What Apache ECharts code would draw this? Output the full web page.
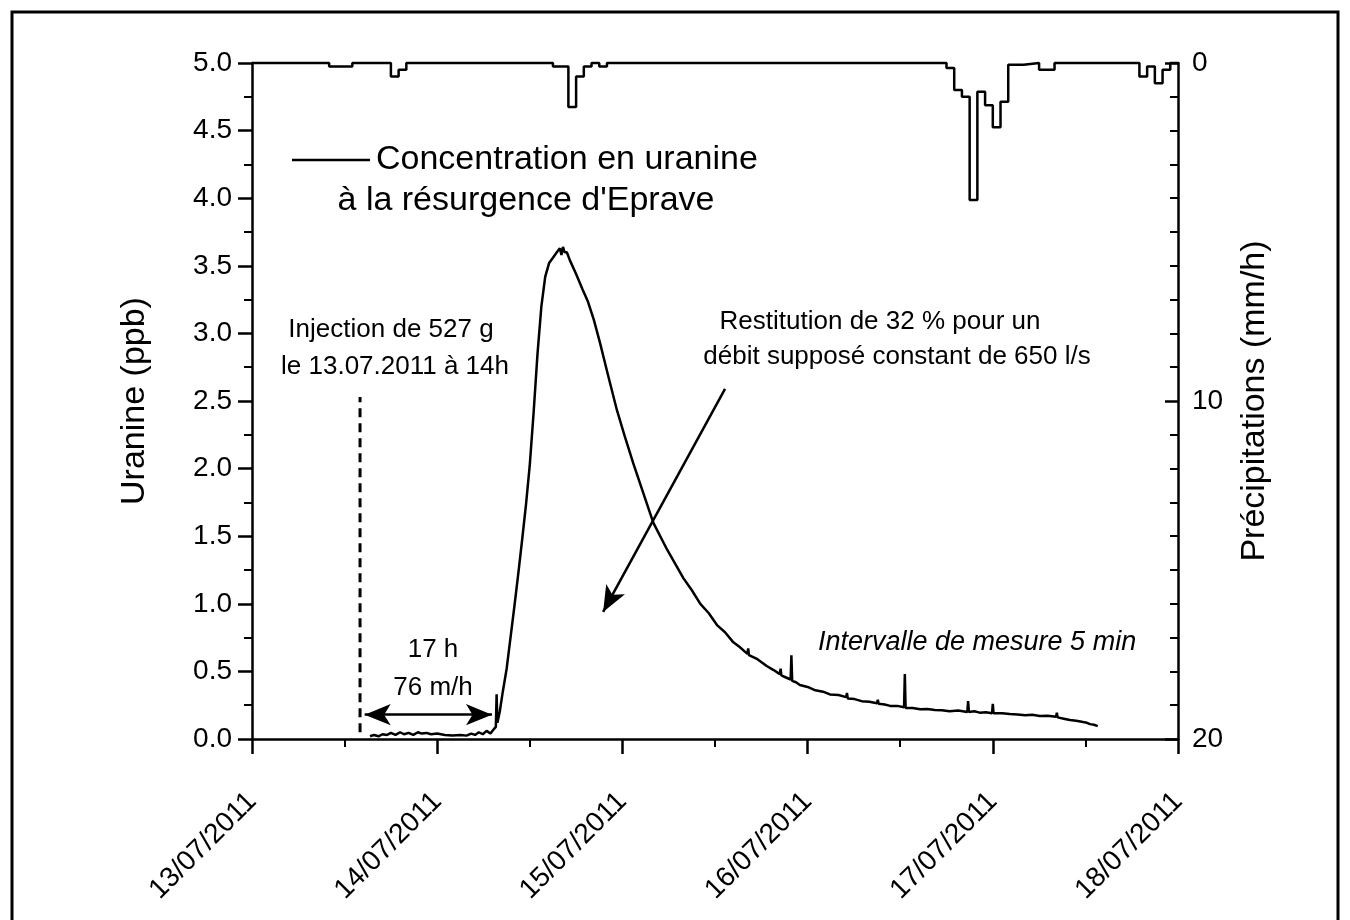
<!DOCTYPE html>
<html>
<head>
<meta charset="utf-8">
<title>Uranine - Eprave</title>
<script src="https://cdn.jsdelivr.net/npm/echarts@6.0.0/dist/echarts.min.js"></script>
<style>
    html, body { margin: 0; padding: 0; background: #fff; }
    #main { width: 1350px; height: 920px; }
</style>
</head>
<body>
<div id="main"></div>
<script>
// heures depuis le 13/07/2011 00:00
var dayLabels = ['13/07/2011', '14/07/2011', '15/07/2011', '16/07/2011', '17/07/2011', '18/07/2011'];

// concentration en uranine (ppb)
var concHours = [15.3, 15.8, 16.4, 16.9, 17.5, 18.0, 18.6, 19.2, 19.7, 20.3, 20.9, 21.5, 22.0, 22.6, 23.2, 24.0,
    25.0, 26.0, 27.0, 27.8, 28.4, 28.9, 29.4, 29.9, 30.4, 30.9, 31.3, 31.6, 31.7, 31.8, 32.1, 32.5,
    33.0, 33.5, 34.0, 34.5, 35.0, 35.5, 36.0, 36.5, 37.0, 37.5, 38.0, 38.5, 39.0, 39.5, 39.9, 40.1,
    40.3, 40.5, 40.8, 41.2, 42.0, 42.8, 43.5, 44.3, 45.1, 46.1, 47.3, 48.3, 49.4, 50.7, 52.0, 53.8,
    55.9, 57.0, 58.1, 59.2, 60.3, 61.3, 62.3, 63.2, 64.2, 64.3, 64.4, 65.5, 66.7, 67.6, 68.4, 68.5,
    68.6, 69.2, 69.8, 69.9, 70.0, 70.5, 71.0, 72.0, 73.0, 74.0, 74.9, 76.0, 77.0, 77.1, 77.2, 78.1,
    79.0, 80.0, 81.0, 81.1, 81.2, 82.0, 82.7, 83.6, 84.5, 84.6, 84.7, 85.6, 86.6, 87.5, 88.5, 89.4,
    90.4, 91.5, 92.7, 92.8, 92.9, 93.6, 94.3, 95.1, 95.9, 96.0, 96.1, 97.2, 98.2, 99.2, 100.2, 101.1,
    102.1, 103.1, 104.2, 104.3, 104.4, 105.2, 106.0, 106.8, 107.7, 108.2, 108.6, 109.1, 109.6];
var concPpb = [0.02, 0.03, 0.02, 0.035, 0.03, 0.045, 0.03, 0.05, 0.035, 0.045, 0.03, 0.05, 0.04, 0.045, 0.035, 0.04,
    0.03, 0.025, 0.03, 0.025, 0.04, 0.03, 0.05, 0.035, 0.06, 0.04, 0.07, 0.09, 0.33, 0.12, 0.2, 0.35,
    0.52, 0.75, 0.98, 1.22, 1.47, 1.73, 2.03, 2.42, 2.85, 3.2, 3.42, 3.52, 3.56, 3.6, 3.63, 3.58,
    3.64, 3.6, 3.6, 3.54, 3.44, 3.33, 3.24, 3.1, 2.93, 2.7, 2.43, 2.24, 2.04, 1.82, 1.6, 1.4,
    1.19, 1.1, 1.0, 0.93, 0.84, 0.79, 0.72, 0.68, 0.63, 0.67, 0.62, 0.59, 0.54, 0.51, 0.48, 0.52,
    0.47, 0.455, 0.44, 0.62, 0.43, 0.42, 0.40, 0.385, 0.36, 0.35, 0.33, 0.325, 0.31, 0.34, 0.30, 0.295,
    0.28, 0.275, 0.265, 0.29, 0.26, 0.255, 0.245, 0.245, 0.235, 0.48, 0.23, 0.23, 0.22, 0.222, 0.215, 0.212,
    0.205, 0.21, 0.2, 0.28, 0.2, 0.205, 0.195, 0.198, 0.19, 0.26, 0.19, 0.19, 0.185, 0.182, 0.175, 0.18,
    0.17, 0.172, 0.165, 0.195, 0.16, 0.15, 0.14, 0.135, 0.125, 0.12, 0.11, 0.105, 0.095];

// precipitations (mm/h), valeur tenue jusqu'au point suivant
var rainHours = [0, 10, 13, 18, 19, 20, 39, 41, 42, 43, 44, 45, 46, 90, 91, 92, 93, 94, 95, 96, 97, 98,
    100, 102, 104, 115, 116, 117, 118, 119, 120];
var rainMm = [0, 0.1, 0, 0.4, 0.2, 0, 0.1, 1.3, 0.4, 0.1, 0, 0.1, 0, 0.15, 0.8, 1.0, 4.05, 0.85, 1.25, 1.9, 1.15, 0.05,
    0, 0.2, 0, 0.4, 0.1, 0.6, 0.2, 0, 0];

// injection le 13.07 a 14h, fleche 17 h, fleche restitution
var injectionHour = 14;
var injectionTop = 2.53;
var transitArrow = [[14.6, 0.18], [31.1, 0.18]];
var restitArrow = [[61.3, 2.59], [45.5, 0.94]];

var FONT = '"Liberation Sans", Arial, sans-serif';

var concData = [];
for (var i = 0; i < concHours.length; i++) {
    concData.push([concHours[i], concPpb[i]]);
}
var rainData = [];
for (var j = 0; j < rainHours.length; j++) {
    rainData.push([rainHours[j], rainMm[j]]);
}

function txt(s, x, y, size, align, italic) {
    return {
        type: 'text',
        silent: true,
        style: {
            text: s, x: x, y: y, fill: '#000',
            font: (italic ? 'italic ' : '') + size + 'px ' + FONT,
            textAlign: align, align: align,
            textVerticalAlign: 'middle', verticalAlign: 'middle'
        }
    };
}

var myChart = echarts.init(document.getElementById('main'));

var option = {
    backgroundColor: '#fff',
    animation: false,
    grid: { left: 252, right: 172, top: 63, bottom: 181 },
    xAxis: {
        type: 'value',
        min: 0,
        max: 120,
        interval: 24,
        offset: 18,
        axisLine: { show: true, lineStyle: { color: '#000', width: 2.5 } },
        axisTick: { show: true, length: 15, lineStyle: { color: '#000', width: 2.5 } },
        minorTick: { show: true, splitNumber: 2, length: 8, lineStyle: { color: '#000', width: 2 } },
        splitLine: { show: false },
        axisLabel: {
            rotate: 45,
            margin: 40,
            color: '#000',
            fontFamily: FONT,
            fontSize: 28,
            showMinLabel: true,
            showMaxLabel: true,
            formatter: function (v) { return dayLabels[Math.round(v / 24)]; }
        }
    },
    yAxis: [
        {
            type: 'value',
            position: 'left',
            min: 0,
            max: 5,
            interval: 0.5,
            name: 'Uranine (ppb)',
            nameLocation: 'middle',
            nameGap: 100,
            nameTextStyle: { color: '#000', fontFamily: FONT, fontSize: 34 },
            axisLine: { show: true, lineStyle: { color: '#000', width: 2.5 } },
            axisTick: { show: true, length: 14, lineStyle: { color: '#000', width: 2.5 } },
            minorTick: { show: true, splitNumber: 2, length: 8, lineStyle: { color: '#000', width: 2 } },
            splitLine: { show: false },
            axisLabel: {
                margin: 20,
                color: '#000',
                fontFamily: FONT,
                fontSize: 28,
                formatter: function (v) { return v.toFixed(1); }
            }
        },
        {
            type: 'value',
            position: 'right',
            inverse: true,
            min: 0,
            max: 20,
            interval: 10,
            name: 'Précipitations (mm/h)',
            nameLocation: 'middle',
            nameGap: 60,
            nameTextStyle: { color: '#000', fontFamily: FONT, fontSize: 34 },
            axisLine: { show: true, lineStyle: { color: '#000', width: 2.5 } },
            axisTick: { show: true, inside: true, length: 13, lineStyle: { color: '#000', width: 2.5 } },
            minorTick: { show: true, splitNumber: 10, length: 8, lineStyle: { color: '#000', width: 2 } },
            splitLine: { show: false },
            axisLabel: { margin: 14, color: '#000', fontFamily: FONT, fontSize: 28 }
        }
    ],
    series: [
        {
            name: 'Précipitations',
            type: 'line',
            yAxisIndex: 1,
            step: 'end',
            data: rainData,
            symbol: 'none',
            clip: false,
            silent: true,
            lineStyle: { color: '#000', width: 2.5 }
        },
        {
            name: 'Injection',
            type: 'line',
            data: [[injectionHour, 0.05], [injectionHour, injectionTop]],
            symbol: 'none',
            silent: true,
            lineStyle: { color: '#000', width: 3, type: [9, 6] }
        },
        {
            name: 'Concentration en uranine',
            type: 'line',
            data: concData,
            symbol: 'none',
            silent: true,
            lineStyle: { color: '#000', width: 2.5 },
            markLine: {
                silent: true,
                animation: false,
                label: { show: false },
                lineStyle: { color: '#000', width: 2.5, type: 'solid' },
                data: [
                    [
                        { coord: transitArrow[0], symbol: 'arrow', symbolSize: [16, 26] },
                        { coord: transitArrow[1], symbol: 'arrow', symbolSize: [16, 26] }
                    ],
                    [
                        { coord: restitArrow[0], symbol: 'none' },
                        { coord: restitArrow[1], symbol: 'arrow', symbolSize: [16, 26] }
                    ]
                ]
            }
        }
    ],
    graphic: [
        // cadre
        { type: 'rect', silent: true, shape: { x: 12, y: 12, width: 1326, height: 940 }, style: { fill: 'none', stroke: '#000', lineWidth: 3 } },
        // legende
        { type: 'line', silent: true, shape: { x1: 292, y1: 160, x2: 370, y2: 160 }, style: { stroke: '#000', lineWidth: 2.5 } },
        txt('Concentration en uranine', 376, 160, 34, 'left'),
        txt("à la résurgence d'Eprave", 526, 201, 34, 'center'),
        // annotations
        txt('Injection de 527 g', 391, 330, 26, 'center'),
        txt('le 13.07.2011 à 14h', 395, 367, 26, 'center'),
        txt('17 h', 433, 650, 26, 'center'),
        txt('76 m/h', 433, 688, 26, 'center'),
        txt('Restitution de 32 % pour un', 880, 322, 26, 'center'),
        txt('débit supposé constant de 650 l/s', 897, 357, 26, 'center'),
        txt('Intervalle de mesure 5 min', 818, 642, 27, 'left', true)
    ]
};

myChart.setOption(option);
</script>
</body>
</html>
